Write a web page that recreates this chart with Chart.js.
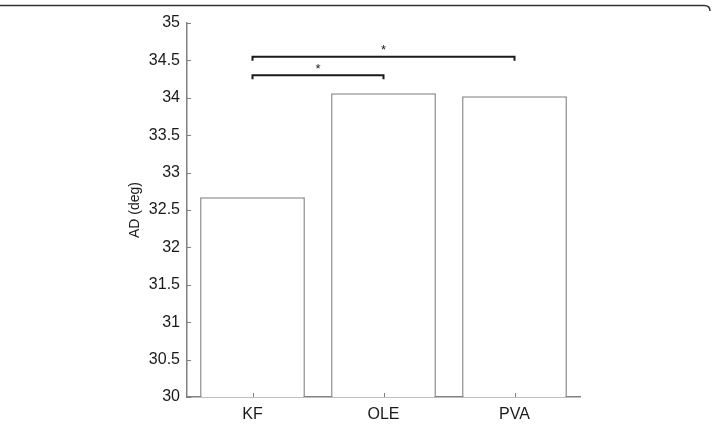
<!DOCTYPE html>
<html>
<head>
<meta charset="utf-8">
<script src="https://cdn.jsdelivr.net/npm/chart.js@4/dist/chart.umd.min.js"></script>
<style>
html,body{margin:0;padding:0;background:#fff;}
canvas{display:block;}
</style>
</head>
<body>
<canvas id="c" width="713" height="424"></canvas>
<script>
const categories = ["KF", "OLE", "PVA"];
const adValues = [32.67, 34.06, 34.02];
const yTicks = [30, 30.5, 31, 31.5, 32, 32.5, 33, 33.5, 34, 34.5, 35];
const sigFrom = [0, 0];
const sigTo = [1, 2];
const sigLevel = [34.3, 34.55];
const sigLabel = ["*", "*"];

const FONT = "'Liberation Sans', Arial, sans-serif";

const extras = {
  id: 'extras',
  afterDraw(chart) {
    const ctx = chart.ctx;
    const xs = chart.scales.x, ys = chart.scales.y;
    const ca = chart.chartArea;
    ctx.save();
    ctx.strokeStyle = '#808080';
    ctx.lineWidth = 1;
    yTicks.forEach(v => {
      const y = Math.round(ys.getPixelForValue(v)) + 0.5;
      ctx.beginPath(); ctx.moveTo(ca.left, y); ctx.lineTo(ca.left + 4, y); ctx.stroke();
    });
    categories.forEach((c, i) => {
      const x = Math.round(xs.getPixelForValue(i)) + 0.5;
      ctx.beginPath(); ctx.moveTo(x, ca.bottom); ctx.lineTo(x, ca.bottom - 4); ctx.stroke();
    });
    ctx.strokeStyle = '#1a1a1a';
    ctx.lineWidth = 2;
    ctx.fillStyle = '#1a1a1a';
    ctx.font = '13px ' + FONT;
    ctx.textAlign = 'center';
    ctx.textBaseline = 'middle';
    sigLevel.forEach((lv, k) => {
      const x1 = xs.getPixelForValue(sigFrom[k]);
      const x2 = xs.getPixelForValue(sigTo[k]);
      const y = ys.getPixelForValue(lv);
      ctx.beginPath();
      ctx.moveTo(x1, y + 4); ctx.lineTo(x1, y); ctx.lineTo(x2, y); ctx.lineTo(x2, y + 4);
      ctx.stroke();
      ctx.fillText(sigLabel[k], (x1 + x2) / 2, y - 6);
    });
    ctx.strokeStyle = '#333';
    ctx.lineWidth = 1.5;
    ctx.beginPath();
    ctx.moveTo(0, 5.5);
    ctx.lineTo(704, 5.5);
    ctx.quadraticCurveTo(710, 5.5, 710, 11);
    ctx.stroke();
    ctx.restore();
  }
};

new Chart(document.getElementById('c'), {
  type: 'bar',
  data: {
    labels: categories,
    datasets: [{
      data: adValues,
      backgroundColor: '#ffffff',
      borderColor: '#8a8a8a',
      borderWidth: 1.5,
      borderSkipped: 'start',
      barPercentage: 0.8,
      categoryPercentage: 1.0
    }]
  },
  options: {
    responsive: false,
    animation: false,
    layout: { padding: { left: 127, right: 133, top: 23, bottom: 0 } },
    plugins: { legend: { display: false }, tooltip: { enabled: false } },
    scales: {
      x: {
        grid: { display: false, drawTicks: false },
        border: { display: true, color: '#808080', width: 1.5 },
        ticks: { color: '#1a1a1a', font: { family: FONT, size: 16 }, padding: 8 },
        afterFit(s) { s.height = 27; }
      },
      y: {
        min: 30, max: 35,
        afterBuildTicks(s) { s.ticks = yTicks.map(v => ({ value: v })); },
        grid: { display: false, drawTicks: false },
        border: { display: true, color: '#808080', width: 1.5 },
        ticks: { color: '#1a1a1a', font: { family: FONT, size: 16 }, padding: 7,
                 callback: v => String(v) },
        title: { display: true, text: 'AD (deg)', color: '#1a1a1a', font: { family: FONT, size: 14 }, padding: 0 },
        afterFit(s) { s.width = 60; }
      }
    }
  },
  plugins: [extras]
});
</script>
</body>
</html>
